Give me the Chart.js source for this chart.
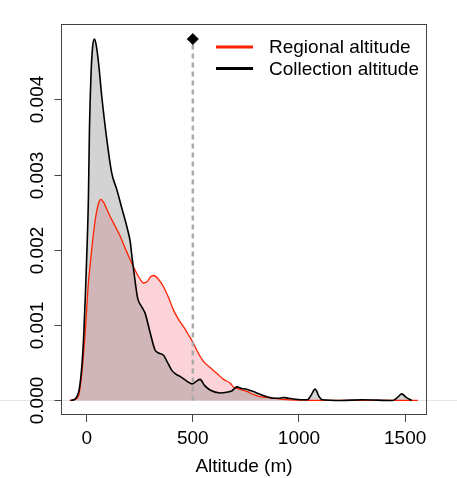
<!DOCTYPE html>
<html><head><meta charset="utf-8">
<script src="https://cdn.jsdelivr.net/npm/chart.js@4/dist/chart.umd.min.js"></script>
<style>html,body{margin:0;padding:0;background:#fff}</style>
</head><body>
<canvas id="c" width="457" height="478"></canvas>
<script>
// ---- data ----
const seriesNames = ['Regional altitude', 'Collection altitude'];
const collectionX = [-75,-60,-46,-35,-23,-15,-7,0,8,13,20,28,37,46,56,71,95,118,142,166,189,205,214,226,240,260,275,299,322,338,362,378,401,420,440,470,495,515,534,555,581,628,660,685,707,730,754,801,848,880,911,925,950,974,1005,1040,1055,1076,1095,1110,1200,1300,1440,1460,1484,1505,1531];
const collectionY = [0,0.00001,0.00005,0.00015,0.00045,0.0008,0.00134,0.0019,0.00267,0.0036,0.0043,0.0047,0.0048,0.0047,0.00448,0.00404,0.00346,0.00302,0.0028,0.00255,0.00231,0.00211,0.00189,0.00163,0.00136,0.00124,0.00116,0.0009,0.00067,0.00063,0.0006,0.00052,0.0004,0.00035,0.00032,0.00026,0.00022,0.00025,0.00028,0.0002,0.00014,0.0001,0.00011,0.00013,0.00018,0.00016,0.00015,0.0001,0.00005,0.00003,0.00003,0.00004,0.00003,0.00002,0.00001,0.00001,0.00006,0.00015,0.00005,0.00001,0,0.00001,0,0.00003,0.000087,0.00004,0];
const regionalX = [-80,-60,-38,-23,-7,8,20,32,45,56,67,80,95,111,135,158,180,205,230,252,267,285,300,315,335,362,385,409,432,456,480,503,525,550,580,613,645,676,691,720,754,785,817,850,879,942,1000,1100,1560];
const regionalY = [0,0.00001,0.00007,0.00036,0.0009,0.00156,0.0019,0.00222,0.00248,0.00262,0.00267,0.00263,0.00254,0.00244,0.00231,0.00218,0.00203,0.00187,0.00172,0.00161,0.00156,0.00158,0.00164,0.00166,0.00162,0.00151,0.00137,0.0012,0.00108,0.00098,0.00087,0.00076,0.00063,0.00052,0.00044,0.00036,0.00028,0.00023,0.00018,0.00015,0.00012,0.00008,0.00005,0.00004,0.00003,0.00001,0.000005,0,0];
const markerX = [500];
const markerY = [0.0048];
const xTicks = [0, 500, 1000, 1500];
const yTicks = [0, 0.001, 0.002, 0.003, 0.004];
const yTickLabels = ['0.000', '0.001', '0.002', '0.003', '0.004'];

const FONT = 'Liberation Sans, Arial, Helvetica, sans-serif';
const FS = 19;
const RED = '#ff2200';
const pts = (xs, ys) => xs.map((x, i) => ({x, y: ys[i]}));

const decor = {
  id: 'decor',
  beforeDraw(chart) {
    const ctx = chart.ctx, ys = chart.scales.y;
    const y0 = Math.round(ys.getPixelForValue(0)) + 0.5;
    ctx.save();
    ctx.strokeStyle = '#e4e4e4'; ctx.lineWidth = 1;
    ctx.beginPath(); ctx.moveTo(0, y0); ctx.lineTo(chart.width, y0); ctx.stroke();
    ctx.restore();
  },
  afterDraw(chart) {
    const ctx = chart.ctx, a = chart.chartArea, ys = chart.scales.y;
    ctx.save();
    ctx.strokeStyle = '#444'; ctx.lineWidth = 1;
    const L = Math.round(a.left) + 0.5, T = Math.round(a.top) + 0.5, R = Math.round(a.right) - 0.5, B = Math.round(a.bottom) - 0.5;
    ctx.strokeRect(L, T, R - L, B - T);
    // y ticks + rotated labels
    ctx.fillStyle = '#000';
    ctx.font = FS + 'px ' + FONT;
    yTicks.forEach((v, i) => {
      const py = Math.round(ys.getPixelForValue(v)) + 0.5;
      ctx.beginPath(); ctx.moveTo(L - 7, py); ctx.lineTo(L, py); ctx.stroke();
      ctx.save();
      ctx.translate(43, py);
      ctx.rotate(-Math.PI / 2);
      ctx.textAlign = 'center'; ctx.textBaseline = 'alphabetic';
      ctx.fillText(yTickLabels[i], 0, 0);
      ctx.restore();
    });
    // legend
    const items = [[RED, seriesNames[0], 47], ['#000', seriesNames[1], 68.5]];
    items.forEach(([col, txt, y]) => {
      ctx.strokeStyle = col; ctx.lineWidth = 3;
      ctx.beginPath(); ctx.moveTo(216, y); ctx.lineTo(253, y); ctx.stroke();
      ctx.fillStyle = '#000'; ctx.textAlign = 'left'; ctx.textBaseline = 'middle';
      ctx.fillText(txt, 269, y + 1);
    });
    ctx.restore();
  }
};

new Chart(document.getElementById('c'), {
  type: 'line',
  data: {
    datasets: [
      {data: pts(regionalX, regionalY), fill: 'origin', backgroundColor: '#fcd3d8', borderWidth: 0, pointRadius: 0, cubicInterpolationMode: 'monotone', order: 6},
      {data: pts(collectionX, collectionY), fill: 'origin', backgroundColor: 'rgba(128,128,128,0.35)', borderWidth: 0, pointRadius: 0, cubicInterpolationMode: 'monotone', order: 5},
      {label: seriesNames[0], data: pts(regionalX, regionalY), fill: false, borderColor: RED, borderWidth: 1.3, pointRadius: 0, cubicInterpolationMode: 'monotone', order: 4},
      {label: seriesNames[1], data: pts(collectionX, collectionY), fill: false, borderColor: '#000', borderWidth: 1.6, pointRadius: 0, cubicInterpolationMode: 'monotone', order: 3},
      {data: [{x: markerX[0], y: 0}, {x: markerX[0], y: markerY[0]}], fill: false, borderColor: '#aaaaaa', borderWidth: 2.5, borderDash: [5, 4], pointRadius: 0, order: 2},
      {type: 'scatter', data: pts(markerX, markerY), pointStyle: 'rectRot', pointRadius: 5.5, backgroundColor: '#000', borderColor: '#000', borderWidth: 1, order: 1}
    ]
  },
  options: {
    responsive: false,
    animation: false,
    devicePixelRatio: 1,
    layout: {padding: {left: 0, top: 24, right: 30, bottom: 0}},
    plugins: {legend: {display: false}, tooltip: {enabled: false}},
    scales: {
      x: {
        type: 'linear', min: -121, max: 1603,
        afterBuildTicks: s => { s.ticks = xTicks.map(v => ({value: v})); },
        afterFit: s => { s.height = 63; },
        grid: {display: true, drawOnChartArea: false, drawTicks: true, tickLength: 7, color: '#444', lineWidth: 1},
        border: {display: false},
        ticks: {font: {family: FONT, size: FS}, color: '#000', padding: 5, maxRotation: 0, autoSkip: false, callback: v => String(v)},
        title: {display: true, text: 'Altitude (m)', font: {family: FONT, size: FS}, color: '#000', padding: {top: 0, bottom: 0}}
      },
      y: {
        type: 'linear', min: -0.000193, max: 0.005,
        afterFit: s => { s.width = 61; },
        grid: {display: false}, border: {display: false}, ticks: {display: false}
      }
    }
  },
  plugins: [decor]
});
</script>
</body></html>
